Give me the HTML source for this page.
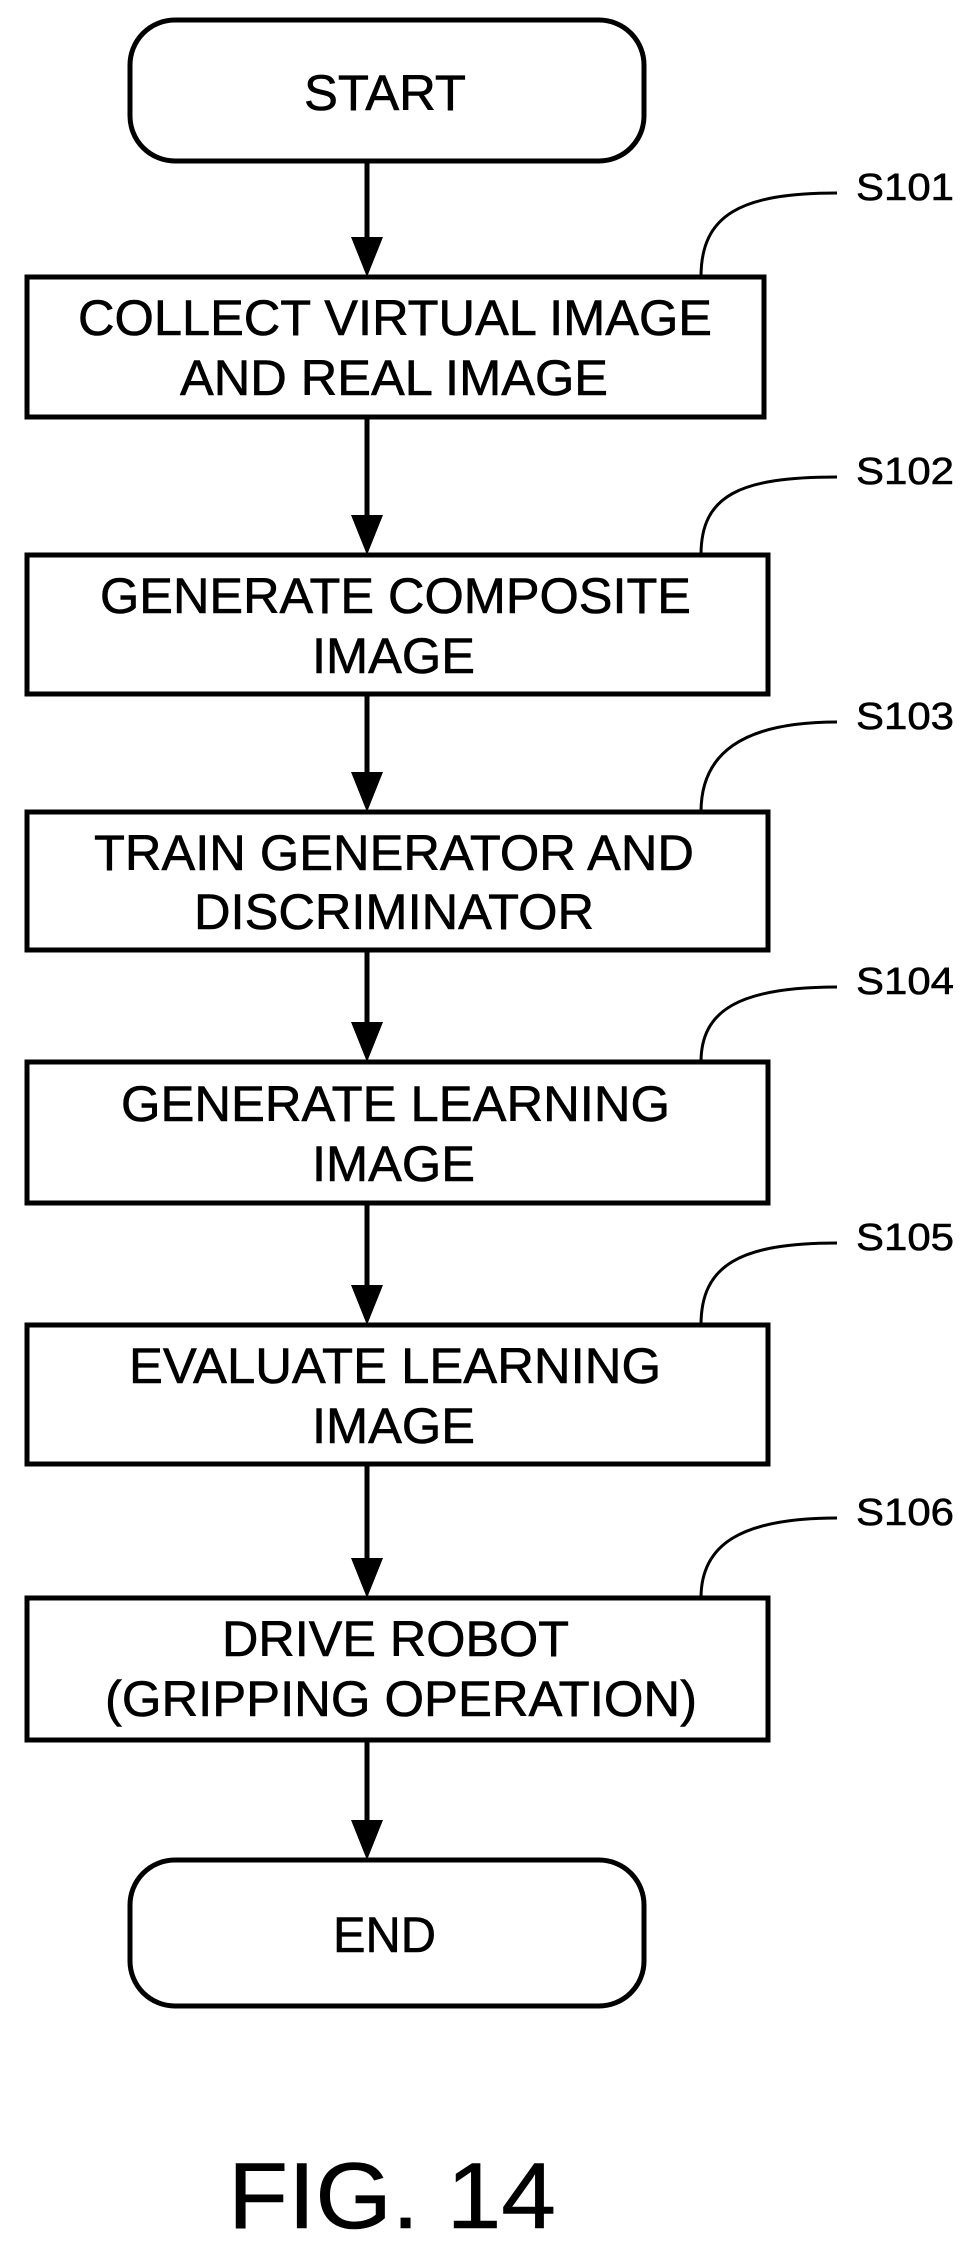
<!DOCTYPE html>
<html><head><meta charset="utf-8"><style>
html,body{margin:0;padding:0;background:#fff;}
svg{display:block;}
text{font-family:"Liberation Sans",sans-serif;fill:#000;stroke:#000;stroke-width:0.6;}
</style></head><body>
<svg width="969" height="2244" viewBox="0 0 969 2244" xmlns="http://www.w3.org/2000/svg">
<g fill="none" stroke="#000" stroke-width="5">
<rect x="130" y="20" width="514" height="141" rx="45"/>
<rect x="130" y="1860" width="514" height="146" rx="45"/>
<rect x="27" y="277" width="737" height="140"/>
<rect x="27" y="555" width="741" height="139"/>
<rect x="27" y="812" width="741" height="138"/>
<rect x="27" y="1062" width="741" height="141"/>
<rect x="27" y="1325" width="741" height="139"/>
<rect x="27" y="1598" width="741" height="142"/>
</g>
<g stroke="#000" stroke-width="5">
<line x1="367" y1="161" x2="367" y2="240"/>
<line x1="367" y1="417" x2="367" y2="520"/>
<line x1="367" y1="694" x2="367" y2="777"/>
<line x1="367" y1="950" x2="367" y2="1027"/>
<line x1="367" y1="1203" x2="367" y2="1290"/>
<line x1="367" y1="1464" x2="367" y2="1562"/>
<line x1="367" y1="1740" x2="367" y2="1825"/>
</g>
<g fill="#000">
<polygon points="351,237 383,237 367,277"/>
<polygon points="351,515 383,515 367,555"/>
<polygon points="351,772 383,772 367,812"/>
<polygon points="351,1022 383,1022 367,1062"/>
<polygon points="351,1285 383,1285 367,1325"/>
<polygon points="351,1558 383,1558 367,1598"/>
<polygon points="351,1820 383,1820 367,1860"/>
</g>
<g fill="none" stroke="#000" stroke-width="3">
<path d="M701,277 C701,215 740,193 837,193"/>
<path d="M701,555 C701,495 740,477 837,477"/>
<path d="M701,812 C701,755 740,722 837,722"/>
<path d="M701,1062 C701,1010 740,987 837,987"/>
<path d="M701,1325 C701,1265 740,1243 837,1243"/>
<path d="M701,1598 C701,1545 740,1518 837,1518"/>
</g>
<g font-size="50">
<text x="304" y="110" textLength="162" lengthAdjust="spacingAndGlyphs">START</text>
<text x="78" y="335" textLength="634" lengthAdjust="spacingAndGlyphs">COLLECT VIRTUAL IMAGE</text>
<text x="180" y="395" textLength="428" lengthAdjust="spacingAndGlyphs">AND REAL IMAGE</text>
<text x="100" y="613" textLength="591" lengthAdjust="spacingAndGlyphs">GENERATE COMPOSITE</text>
<text x="312" y="673" textLength="163" lengthAdjust="spacingAndGlyphs">IMAGE</text>
<text x="94" y="870" textLength="600" lengthAdjust="spacingAndGlyphs">TRAIN GENERATOR AND</text>
<text x="194" y="929" textLength="400" lengthAdjust="spacingAndGlyphs">DISCRIMINATOR</text>
<text x="121" y="1121" textLength="549" lengthAdjust="spacingAndGlyphs">GENERATE LEARNING</text>
<text x="312" y="1181" textLength="163" lengthAdjust="spacingAndGlyphs">IMAGE</text>
<text x="129" y="1383" textLength="532" lengthAdjust="spacingAndGlyphs">EVALUATE LEARNING</text>
<text x="312" y="1443" textLength="163" lengthAdjust="spacingAndGlyphs">IMAGE</text>
<text x="222" y="1656" textLength="347" lengthAdjust="spacingAndGlyphs">DRIVE ROBOT</text>
<text x="105" y="1716" textLength="592" lengthAdjust="spacingAndGlyphs">(GRIPPING OPERATION)</text>
<text x="333" y="1952" textLength="103" lengthAdjust="spacingAndGlyphs">END</text>
</g>
<g font-size="38" style="stroke-width:1">
<text x="856" y="200" textLength="98" lengthAdjust="spacingAndGlyphs">S101</text>
<text x="856" y="484" textLength="98" lengthAdjust="spacingAndGlyphs">S102</text>
<text x="856" y="729" textLength="98" lengthAdjust="spacingAndGlyphs">S103</text>
<text x="856" y="994" textLength="98" lengthAdjust="spacingAndGlyphs">S104</text>
<text x="856" y="1250" textLength="98" lengthAdjust="spacingAndGlyphs">S105</text>
<text x="856" y="1525" textLength="98" lengthAdjust="spacingAndGlyphs">S106</text>
</g>
<text x="228" y="2228" font-size="94" textLength="328" lengthAdjust="spacingAndGlyphs">FIG. 14</text>
</svg>
</body></html>
